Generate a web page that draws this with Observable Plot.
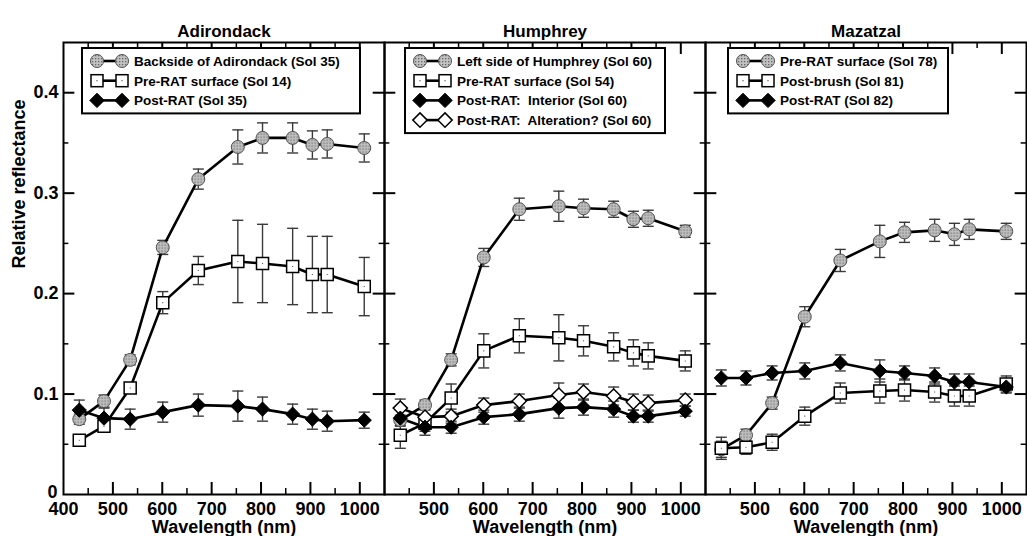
<!DOCTYPE html>
<html>
<head>
<meta charset="utf-8">
<script src="https://cdn.jsdelivr.net/npm/d3@7"></script>
<script src="https://cdn.jsdelivr.net/npm/@observablehq/plot@0.6"></script>
<style>
  body { margin: 0; background: #fff; }
  #wrap { position: relative; width: 1027px; height: 536px; overflow: hidden; background: #fff; }
  #wrap svg { position: absolute; left: 0; top: 0; overflow: visible; }
</style>
</head>
<body>
<svg width="0" height="0" style="position:absolute;left:0;top:0">
  <defs>
    <pattern id="stipple" width="3" height="3" patternUnits="userSpaceOnUse">
      <rect width="3" height="3" fill="#c2c2c2"></rect>
      <rect x="1" y="1" width="1.3" height="1.3" fill="#666"></rect>
    </pattern>
  </defs>
</svg>
<div id="wrap"></div>
<script>
// ---------- data ----------
const wavelengths = [432, 482, 535, 601, 673, 753, 803, 864, 904, 934, 1009];
const panels = ["Adirondack", "Humphrey", "Mazatzal"];

const adirondackSeries = ["Backside of Adirondack (Sol 35)", "Pre-RAT surface (Sol 14)", "Post-RAT (Sol 35)"];
const adirondackKinds = ["circle", "square", "diamond"];
const adirBackside    = [0.075, 0.093, 0.134, 0.246, 0.314, 0.346, 0.355, 0.355, 0.348, 0.349, 0.345];
const adirBacksideErr = [0.005, 0.006, 0.005, 0.007, 0.010, 0.017, 0.015, 0.015, 0.014, 0.014, 0.014];
const adirPreRAT      = [0.054, 0.068, 0.106, 0.191, 0.223, 0.232, 0.230, 0.227, 0.219, 0.219, 0.207];
const adirPreRATErr   = [0.003, 0.004, 0.004, 0.011, 0.014, 0.041, 0.039, 0.038, 0.038, 0.038, 0.029];
const adirPostRAT     = [0.084, 0.076, 0.075, 0.082, 0.089, 0.088, 0.085, 0.080, 0.075, 0.073, 0.074];
const adirPostRATErr  = [0.010, 0.010, 0.010, 0.010, 0.011, 0.015, 0.012, 0.010, 0.010, 0.010, 0.008];

const humphreySeries = ["Left side of Humphrey (Sol 60)", "Pre-RAT surface (Sol 54)", "Post-RAT:  Interior (Sol 60)", "Post-RAT:  Alteration? (Sol 60)"];
const humphreyKinds = ["circle", "square", "diamond", "openDiamond"];
const humLeft          = [0.074, 0.089, 0.134, 0.236, 0.284, 0.287, 0.285, 0.284, 0.274, 0.275, 0.262];
const humLeftErr       = [0.005, 0.005, 0.006, 0.009, 0.011, 0.015, 0.009, 0.008, 0.008, 0.008, 0.006];
const humPreRAT        = [0.059, 0.071, 0.096, 0.143, 0.158, 0.156, 0.153, 0.147, 0.141, 0.138, 0.133];
const humPreRATErr     = [0.013, 0.008, 0.014, 0.017, 0.017, 0.023, 0.015, 0.014, 0.013, 0.013, 0.010];
const humInterior      = [0.076, 0.067, 0.067, 0.077, 0.080, 0.086, 0.087, 0.085, 0.078, 0.078, 0.083];
const humInteriorErr   = [0.008, 0.008, 0.006, 0.007, 0.007, 0.010, 0.008, 0.008, 0.006, 0.006, 0.005];
const humAlteration    = [0.086, 0.077, 0.078, 0.089, 0.093, 0.099, 0.102, 0.098, 0.092, 0.091, 0.094];
const humAlterationErr = [0.009, 0.008, 0.007, 0.007, 0.007, 0.012, 0.008, 0.009, 0.008, 0.008, 0.006];

const mazatzalSeries = ["Pre-RAT surface (Sol 78)", "Post-brush (Sol 81)", "Post-RAT (Sol 82)"];
const mazatzalKinds = ["circle", "square", "diamond"];
const mazPreRAT       = [0.045, 0.059, 0.091, 0.177, 0.233, 0.252, 0.261, 0.263, 0.259, 0.264, 0.262];
const mazPreRATErr    = [0.008, 0.006, 0.006, 0.010, 0.011, 0.016, 0.010, 0.011, 0.011, 0.010, 0.008];
const mazPostBrush    = [0.046, 0.047, 0.052, 0.078, 0.101, 0.103, 0.104, 0.102, 0.098, 0.098, 0.110];
const mazPostBrushErr = [0.011, 0.007, 0.008, 0.009, 0.010, 0.012, 0.011, 0.010, 0.010, 0.010, 0.008];
const mazPostRAT      = [0.116, 0.116, 0.121, 0.123, 0.131, 0.123, 0.121, 0.118, 0.112, 0.112, 0.107];
const mazPostRATErr   = [0.008, 0.007, 0.007, 0.008, 0.008, 0.011, 0.007, 0.008, 0.008, 0.008, 0.006];

const xTickLabels = [400, 500, 600, 700, 800, 900, 1000];
const yTickLabels = [0, 0.1, 0.2, 0.3, 0.4];
const xMajorTicks = [500, 600, 700, 800, 900, 1000];
const xMinorTicks = [450, 550, 650, 750, 850, 950];
const yMajorTicks = [0.1, 0.2, 0.3, 0.4];
const yMinorTicks = [0.05, 0.15, 0.25, 0.35];
const xTitle = "Wavelength (nm)";
const yTitle = "Relative reflectance";

// ---------- build table ----------
const panelSets = [
  {panel: panels[0], names: adirondackSeries, kinds: adirondackKinds,
   values: [adirBackside, adirPreRAT, adirPostRAT], errors: [adirBacksideErr, adirPreRATErr, adirPostRATErr]},
  {panel: panels[1], names: humphreySeries, kinds: humphreyKinds,
   values: [humLeft, humPreRAT, humInterior, humAlteration], errors: [humLeftErr, humPreRATErr, humInteriorErr, humAlterationErr]},
  {panel: panels[2], names: mazatzalSeries, kinds: mazatzalKinds,
   values: [mazPreRAT, mazPostBrush, mazPostRAT], errors: [mazPreRATErr, mazPostBrushErr, mazPostRATErr]}
];
const rows = panelSets.flatMap(s => s.names.flatMap((name, k) => wavelengths.map((wl, i) => ({
  panel: s.panel, series: s.panel + "|" + name, kind: s.kinds[k], wl, v: s.values[k][i], err: s.errors[k][i]
}))));
const ofKind = k => rows.filter(d => d.kind === k);
const xLabelRows = panels.flatMap((p, i) => xTickLabels.filter(v => i === 0 || v > 400).map(v => ({panel: p, v})));

// ---------- layout ----------
const W = 1027, H = 536, ML = 62, MR = 0, MT = 42, MB = 42;
const FW = (W - ML - MR) / 3, FH = H - MT - MB;
const FONT = "'Liberation Sans', Arial, Helvetica, sans-serif";
const capSymbol = {draw(ctx) { ctx.moveTo(-5.5, 0); ctx.lineTo(5.5, 0); }};
const BAR = "#3a3a3a";
const XY = {fx: "panel", x: "wl", y: "v"};
const TXT = {fontWeight: "bold", fill: "black"};

const chart = Plot.plot({
  width: W, height: H,
  marginLeft: ML, marginRight: MR, marginTop: MT, marginBottom: MB,
  style: {background: "transparent", overflow: "visible", fontFamily: FONT, color: "black"},
  x: {domain: [400, 1050], axis: null},
  y: {domain: [0, 0.45], axis: null},
  fx: {domain: panels, padding: 0, axis: null},
  marks: [
    // error bars
    Plot.ruleX(rows, {fx: "panel", x: "wl", y1: d => d.v - d.err, y2: d => d.v + d.err, stroke: BAR, strokeWidth: 1.4}),
    Plot.dot(rows, {fx: "panel", x: "wl", y: d => d.v - d.err, symbol: capSymbol, fill: "none", stroke: BAR, strokeWidth: 1.4}),
    Plot.dot(rows, {fx: "panel", x: "wl", y: d => d.v + d.err, symbol: capSymbol, fill: "none", stroke: BAR, strokeWidth: 1.4}),
    // lines
    Plot.line(rows, {...XY, z: "series", stroke: "black", strokeWidth: 2.6}),
    // markers
    Plot.dot(ofKind("circle"), {...XY, symbol: "circle", r: 6.5, fill: "url(#stipple)", stroke: "#505050", strokeWidth: 1}),
    Plot.dot(ofKind("square"), {...XY, symbol: "square", r: 6.8, fill: "white", stroke: "black", strokeWidth: 1.5}),
    Plot.dot(ofKind("square"), {...XY, symbol: "square", r: 0.6, fill: "#555", stroke: "none"}),
    Plot.dot(ofKind("openDiamond"), {...XY, symbol: "diamond2", r: 6.4, fill: "white", stroke: "black", strokeWidth: 1.5}),
    Plot.dot(ofKind("diamond"), {...XY, symbol: "diamond2", r: 6.4, fill: "black", stroke: "black", strokeWidth: 1}),
    // frame and inward ticks
    Plot.frame({stroke: "black", strokeWidth: 2}),
    Plot.ruleX(xMajorTicks, {x: d => d, insetTop: FH - 12, stroke: "black", strokeWidth: 2}),
    Plot.ruleX(xMajorTicks, {x: d => d, insetBottom: FH - 12, stroke: "black", strokeWidth: 2}),
    Plot.ruleX(xMinorTicks, {x: d => d, insetTop: FH - 6, stroke: "black", strokeWidth: 1.5}),
    Plot.ruleX(xMinorTicks, {x: d => d, insetBottom: FH - 6, stroke: "black", strokeWidth: 1.5}),
    Plot.ruleY(yMajorTicks, {y: d => d, insetRight: FW - 12, stroke: "black", strokeWidth: 2}),
    Plot.ruleY(yMajorTicks, {y: d => d, insetLeft: FW - 12, stroke: "black", strokeWidth: 2}),
    Plot.ruleY(yMinorTicks, {y: d => d, insetRight: FW - 6, stroke: "black", strokeWidth: 1.5}),
    Plot.ruleY(yMinorTicks, {y: d => d, insetLeft: FW - 6, stroke: "black", strokeWidth: 1.5}),
    // tick labels
    Plot.text(xLabelRows, {fx: "panel", x: "v", text: d => String(d.v), frameAnchor: "bottom", lineAnchor: "top", dy: 8,
      fontSize: 18, ...TXT}),
    Plot.text(yTickLabels.filter(d => d > 0), {fx: () => panels[0], y: d => d, text: d => d.toFixed(1), frameAnchor: "left",
      textAnchor: "end", dx: -5, fontSize: 18, ...TXT}),
    Plot.text(yTickLabels.filter(d => d === 0), {fx: () => panels[0], y: d => d, text: d => String(d), frameAnchor: "left",
      textAnchor: "end", lineAnchor: "bottom", dx: -6, dy: 3, fontSize: 18, ...TXT}),
    // axis titles and panel titles
    Plot.text(panels, {fx: d => d, text: () => xTitle, frameAnchor: "bottom", lineAnchor: "top", dy: 26,
      fontSize: 18, ...TXT}),
    Plot.text([yTitle], {fx: () => panels[0], text: d => d, frameAnchor: "left", rotate: -90, dx: -44,
      fontSize: 18, ...TXT}),
    Plot.text(panels, {fx: d => d, text: d => d, frameAnchor: "top", dy: -18, fontSize: 17, ...TXT})
  ]
});
document.getElementById("wrap").appendChild(chart);

// ---------- legends ----------
const legendBoxes = [{x: 82, w: 278}, {x: 405, w: 260}, {x: 728, w: 220}];
const legendTop = 48, rowStep = 19.7, firstRow = 13;
const lsvg = d3.select("#wrap").append("svg").attr("width", W).attr("height", H)
  .style("font-family", FONT);

function drawSymbol(g, kind, cx, cy) {
  if (kind === "circle") {
    g.append("circle").attr("cx", cx).attr("cy", cy).attr("r", 6.5)
      .attr("fill", "url(#stipple)").attr("stroke", "#505050").attr("stroke-width", 1);
  } else if (kind === "square") {
    g.append("rect").attr("x", cx - 6).attr("y", cy - 6).attr("width", 12).attr("height", 12)
      .attr("fill", "white").attr("stroke", "black").attr("stroke-width", 1.5);
    g.append("rect").attr("x", cx - 0.6).attr("y", cy - 0.6).attr("width", 1.2).attr("height", 1.2).attr("fill", "#555");
  } else {
    const r = 7.2;
    g.append("path").attr("d", `M${cx},${cy - r}L${cx + r},${cy}L${cx},${cy + r}L${cx - r},${cy}Z`)
      .attr("fill", kind === "diamond" ? "black" : "white").attr("stroke", "black").attr("stroke-width", kind === "diamond" ? 1 : 1.5);
  }
}

panelSets.forEach((s, i) => {
  const box = legendBoxes[i];
  const g = lsvg.append("g").attr("transform", `translate(${box.x},${legendTop})`);
  const h = firstRow * 2 + rowStep * (s.names.length - 1);
  g.append("rect").attr("width", box.w).attr("height", h).attr("fill", "white").attr("stroke", "black").attr("stroke-width", 2);
  s.names.forEach((name, j) => {
    const cy = firstRow + rowStep * j;
    g.append("line").attr("x1", 15).attr("x2", 40).attr("y1", cy).attr("y2", cy).attr("stroke", "black").attr("stroke-width", 2.6);
    drawSymbol(g, s.kinds[j], 15, cy);
    drawSymbol(g, s.kinds[j], 40, cy);
    g.append("text").attr("x", 52).attr("y", cy).attr("dy", "0.36em")
      .attr("font-size", 13.5).attr("font-weight", "bold").style("white-space", "pre").text(name);
  });
});
</script>
</body>
</html>
